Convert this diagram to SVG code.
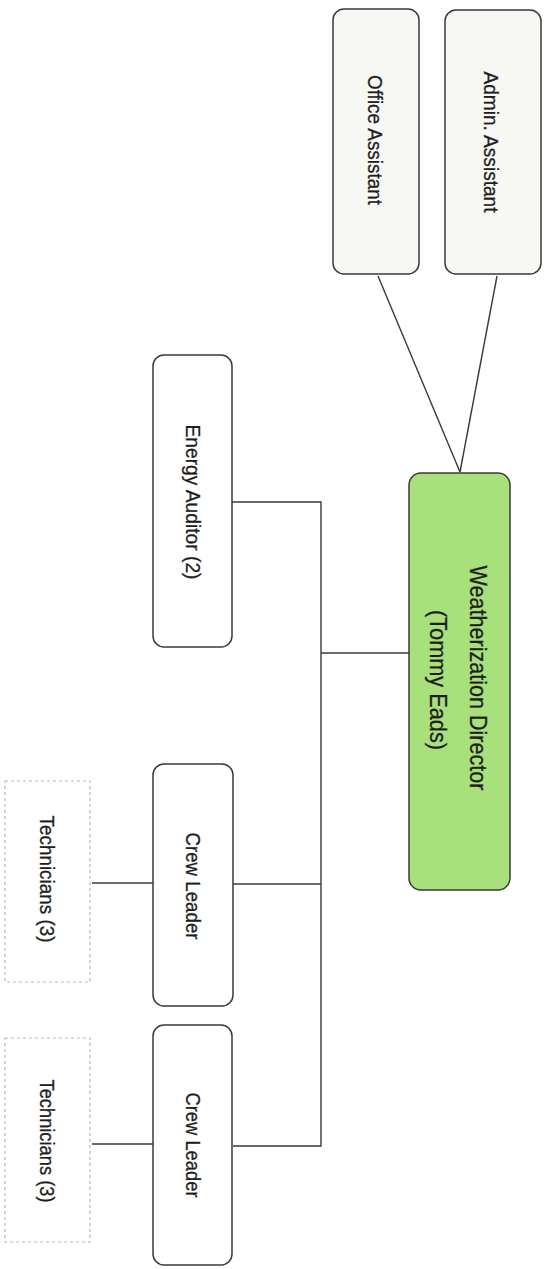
<svg xmlns="http://www.w3.org/2000/svg" width="547" height="1269" viewBox="0 0 547 1269">
<style>
.box{fill:#ffffff;stroke:#3a3a3a;stroke-width:1.5}
.staff{fill:#f7f8f3;stroke:#3a3a3a;stroke-width:1.5}
.dir{fill:#a8e07c;stroke:#3a3a3a;stroke-width:1.5}
.tech{fill:#ffffff;stroke:#b8b8b8;stroke-width:1.2;stroke-dasharray:3 3}
.lbl{font-family:"Liberation Sans",Arial,sans-serif;font-size:21px;fill:#1e1e1e;stroke:#1e1e1e;stroke-width:0.3;text-anchor:middle}
.big{font-size:24px}
.conn{fill:none;stroke:#3a3a3a;stroke-width:1.4}
</style>
<rect width="547" height="1269" fill="#ffffff"/>
<g id="connectors">
<line class="conn" x1="378" y1="276" x2="460" y2="472"/>
<line class="conn" x1="497" y1="276" x2="460" y2="472"/>
<polyline class="conn" points="232,502 321,502 321,1146 233,1146"/>
<line class="conn" x1="321" y1="653" x2="409" y2="653"/>
<line class="conn" x1="233" y1="884" x2="321" y2="884"/>
<line class="conn" x1="92" y1="883" x2="153" y2="883"/>
<line class="conn" x1="92" y1="1144" x2="153" y2="1144"/>
</g>
<g id="office-assistant">
<rect class="staff" x="333" y="9" width="86" height="265" rx="11"/>
<text class="lbl" transform="translate(375,140) rotate(90)" dy="0.35em" textLength="130" lengthAdjust="spacingAndGlyphs">Office Assistant</text>
</g>
<g id="admin-assistant">
<rect class="staff" x="445" y="10" width="96" height="264" rx="11"/>
<text class="lbl" transform="translate(491,142) rotate(90)" dy="0.35em" textLength="141" lengthAdjust="spacingAndGlyphs">Admin. Assistant</text>
</g>
<g id="energy-auditor">
<rect class="box" x="153" y="355" width="79" height="292" rx="11"/>
<text class="lbl" transform="translate(193,502) rotate(90)" dy="0.35em" textLength="155" lengthAdjust="spacingAndGlyphs">Energy Auditor (2)</text>
</g>
<g id="director">
<rect class="dir" x="409" y="473" width="101" height="417" rx="12"/>
<text class="lbl big" transform="translate(478,678) rotate(90)" dy="0.35em" textLength="225" lengthAdjust="spacingAndGlyphs">Weatherization Director</text>
<text class="lbl big" transform="translate(438,680) rotate(90)" dy="0.35em" textLength="140" lengthAdjust="spacingAndGlyphs">(Tommy Eads)</text>
</g>
<g id="crew-leader-1">
<rect class="box" x="153" y="764" width="80" height="242" rx="11"/>
<text class="lbl" transform="translate(193,886) rotate(90)" dy="0.35em" textLength="107" lengthAdjust="spacingAndGlyphs">Crew Leader</text>
</g>
<g id="technicians-1">
<rect class="tech" x="5" y="781" width="85" height="201"/>
<text class="lbl" transform="translate(47,879) rotate(90)" dy="0.35em" textLength="127" lengthAdjust="spacingAndGlyphs">Technicians (3)</text>
</g>
<g id="crew-leader-2">
<rect class="box" x="153" y="1025" width="79" height="240" rx="11"/>
<text class="lbl" transform="translate(193,1145) rotate(90)" dy="0.35em" textLength="105" lengthAdjust="spacingAndGlyphs">Crew Leader</text>
</g>
<g id="technicians-2">
<rect class="tech" x="5" y="1038" width="85" height="204"/>
<text class="lbl" transform="translate(47,1141) rotate(90)" dy="0.35em" textLength="123" lengthAdjust="spacingAndGlyphs">Technicians (3)</text>
</g>
</svg>
